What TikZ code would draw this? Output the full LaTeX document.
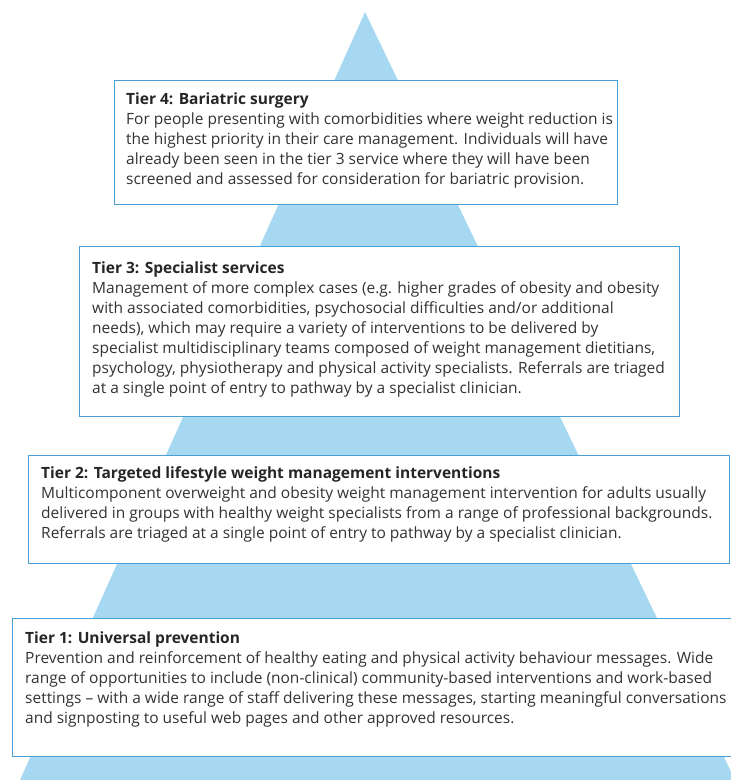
\documentclass[tikz,border=0pt]{standalone}
\usepackage{fontspec}
\setmainfont{Open Sans}
\definecolor{tri}{HTML}{A6D8F2}
\definecolor{edge}{HTML}{4A9FD4}
\definecolor{txt}{HTML}{333333}
\newcommand\tierpar[2]{\parbox[t]{760pt}{\fontsize{15.5}{20}\selectfont\textbf{\color{black!85}#1}\\#2}}
\begin{document}
\begin{tikzpicture}[x=1pt,y=-1pt,
  tierbox/.style={draw=edge, line width=1.4pt, fill=white, inner sep=0pt, anchor=north west},
  tiertext/.style={anchor=base west, inner sep=0pt, text=txt}]
\useasboundingbox (0,0) rectangle (731,780);
\fill[tri] (365,12) -- (20,780) -- (735,780) -- cycle;
% boxes
\node[tierbox, minimum width=503pt, minimum height=124pt] (b4) at (114,80) {};
\node[tierbox, minimum width=600pt, minimum height=170pt] (b3) at (79,246) {};
\node[tierbox, minimum width=701pt, minimum height=108pt] (b2) at (28,455) {};
\node[tierbox, minimum width=735pt, minimum height=138pt] (b1) at (12,618) {};
% texts
\node[tiertext] (t4) at (126,104) {\tierpar{Tier 4: Bariatric surgery}{For people presenting with comorbidities where weight reduction is\\
the highest priority in their care management. Individuals will have\\
already been seen in the tier 3 service where they will have been\\
screened and assessed for consideration for bariatric provision.}};
\node[tiertext] (t3) at (92,273) {\tierpar{Tier 3: Specialist services}{Management of more complex cases (e.g. higher grades of obesity and obesity\\
with associated comorbidities, psychosocial difficulties and/or additional\\
needs), which may require a variety of interventions to be delivered by\\
specialist multidisciplinary teams composed of weight management dietitians,\\
psychology, physiotherapy and physical activity specialists. Referrals are triaged\\
at a single point of entry to pathway by a specialist clinician.}};
\node[tiertext] (t2) at (41,478) {\tierpar{Tier 2: Targeted lifestyle weight management interventions}{Multicomponent overweight and obesity weight management intervention for adults usually\\
delivered in groups with healthy weight specialists from a range of professional backgrounds.\\
Referrals are triaged at a single point of entry to pathway by a specialist clinician.}};
\node[tiertext] (t1) at (25,643) {\tierpar{Tier 1: Universal prevention}{Prevention and reinforcement of healthy eating and physical activity behaviour messages. Wide\\
range of opportunities to include (non-clinical) community-based interventions and work-based\\
settings -- with a wide range of staff delivering these messages, starting meaningful conversations\\
and signposting to useful web pages and other approved resources.}};
\end{tikzpicture}
\end{document}
